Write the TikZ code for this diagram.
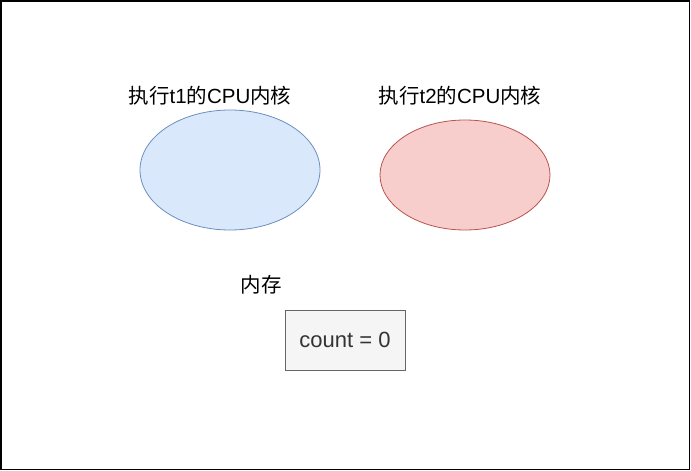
\documentclass[tikz,border=0pt]{standalone}
\usepackage{fontspec}
\setmainfont{Liberation Sans}
\newfontfamily\cjk{Noto Sans CJK SC}
\usetikzlibrary{shapes.geometric}
\definecolor{bluefill}{HTML}{DAE8FC}
\definecolor{bluedraw}{HTML}{6C8EBF}
\definecolor{redfill}{HTML}{F8CECC}
\definecolor{reddraw}{HTML}{B85450}
\definecolor{grayfill}{HTML}{F5F5F5}
\definecolor{graydraw}{HTML}{666666}
\definecolor{graytext}{HTML}{333333}
\tikzset{
  core/.style={ellipse, inner sep=0pt, line width=0.8pt},
  lbl/.style={inner sep=0pt, font=\fontsize{20.5}{24}\selectfont, text=black},
  mem/.style={rectangle, inner sep=0pt, line width=0.8pt, draw=graydraw, fill=grayfill,
    minimum width=120pt, minimum height=60pt, text=graytext, font=\fontsize{22}{26}\selectfont}
}
\begin{document}
\begin{tikzpicture}[x=1pt,y=-1pt]
\useasboundingbox (0,0) rectangle (691,471);
\draw[line width=1.5pt] (0.75,0.75) rectangle (689.5,469.5);
\node[core, draw=bluedraw, fill=bluefill, minimum width=180pt, minimum height=120pt] (c1) at (230,170) {};
\node[core, draw=reddraw, fill=redfill, minimum width=170pt, minimum height=110pt] (c2) at (465,175) {};
\node[lbl] (l1) at (210,96) {{\cjk 执行}t1{\cjk 的}CPU{\cjk 内核}};
\node[lbl] (l2) at (460,96) {{\cjk 执行}t2{\cjk 的}CPU{\cjk 内核}};
\node[lbl] (l3) at (261,285) {\cjk 内存};
\node[mem] (m) at (345,340) {count = 0};
\end{tikzpicture}
\end{document}
